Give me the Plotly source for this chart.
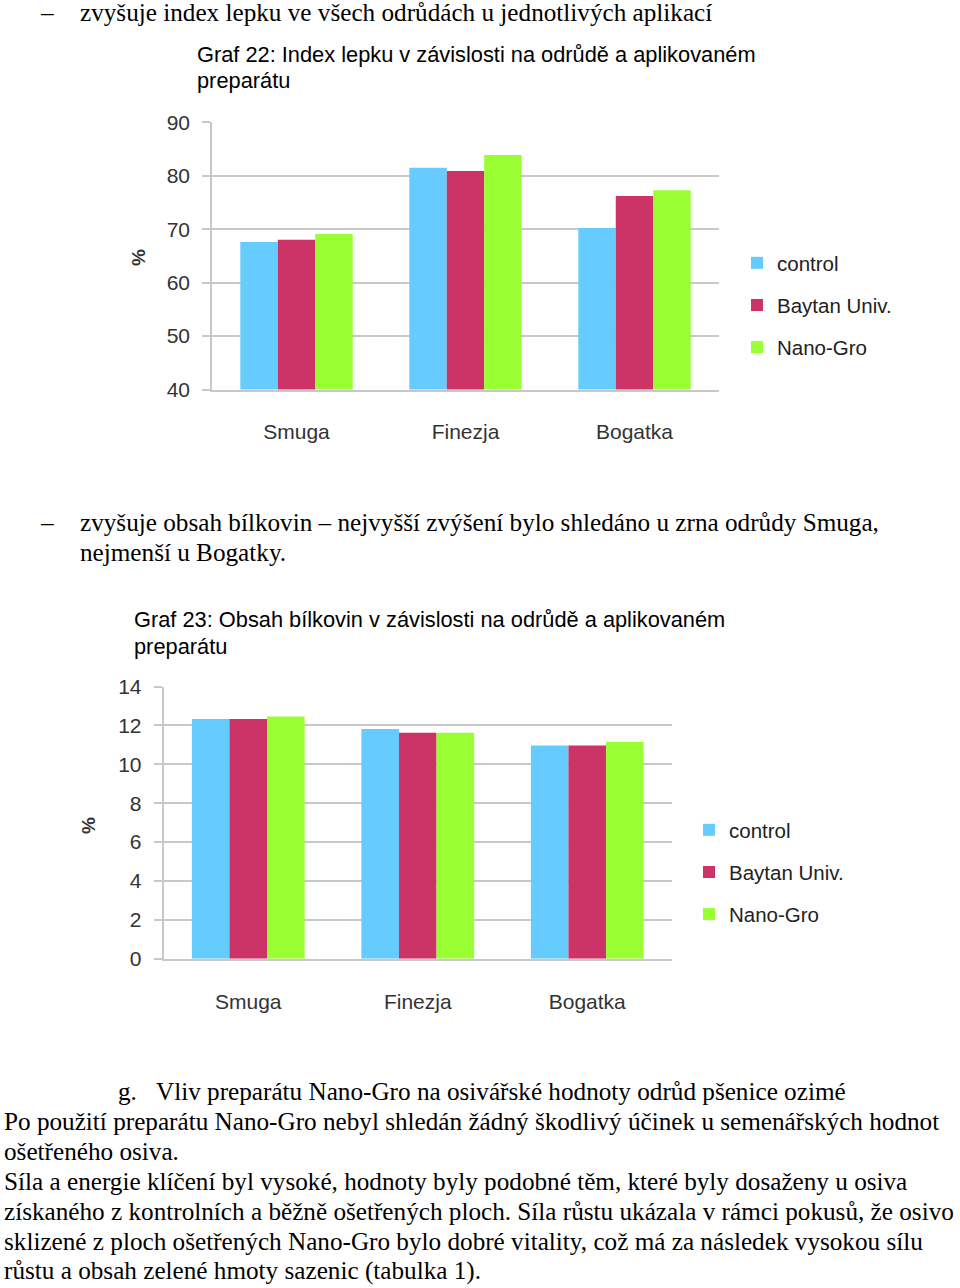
import plotly.graph_objects as go

W, H = 960, 1288

varieties = ["Smuga", "Finezja", "Bogatka"]
treatments = ["control", "Baytan Univ.", "Nano-Gro"]
colors = ["#66CCFF", "#CC3366", "#99FF33"]

# Graf 22: Index lepku (%)
gluten_control = [67.6, 81.5, 70.2]
gluten_baytan = [68.0, 80.9, 76.2]
gluten_nano = [69.1, 83.9, 77.3]

# Graf 23: Obsah bílkovin (%)
protein_control = [12.33, 11.81, 10.97]
protein_baytan = [12.33, 11.62, 10.97]
protein_nano = [12.46, 11.62, 11.14]

gluten_ticks = [40, 50, 60, 70, 80, 90]
protein_ticks = [0, 2, 4, 6, 8, 10, 12, 14]

def px_x(x):
    return x / W

def px_y(y):
    return 1 - y / H

fig = go.Figure()

for name, vals, col, g in zip(treatments, [gluten_control, gluten_baytan, gluten_nano], colors, ["a", "b", "c"]):
    fig.add_trace(go.Bar(x=varieties, y=vals, name=name, marker_color=col, marker_line_width=0,
                         xaxis="x", yaxis="y", legend="legend", legendgroup="g1" + g))
for name, vals, col, g in zip(treatments, [protein_control, protein_baytan, protein_nano], colors, ["a", "b", "c"]):
    fig.add_trace(go.Bar(x=varieties, y=vals, name=name, marker_color=col, marker_line_width=0,
                         xaxis="x2", yaxis="y2", legend="legend2", legendgroup="g2" + g))

axis_font = dict(family="Liberation Sans, Arial, sans-serif", size=21, color="#333333")
grid = "#C8C8C8"

common_x = dict(showgrid=False, showline=True, linecolor=grid, linewidth=1.5, ticks="",
                tickfont=axis_font, ticklabelstandoff=23, fixedrange=True, automargin=False)
common_y = dict(showgrid=True, gridcolor=grid, gridwidth=1.5, showline=True, linecolor=grid, linewidth=1.5,
                ticks="outside", ticklen=8, tickcolor=grid, tickwidth=1.5, tickfont=axis_font,
                ticklabelstandoff=8, zeroline=False, fixedrange=True, automargin=False)

legend_font = dict(family="Liberation Sans, Arial, sans-serif", size=20.5, color="#222222")

fig.update_layout(
    width=W, height=H, autosize=False,
    margin=dict(l=0, r=0, t=0, b=0, pad=0),
    paper_bgcolor="white", plot_bgcolor="white",
    barmode="group", bargap=0.335, bargroupgap=0,
    xaxis=dict(domain=[px_x(212), px_x(719)], anchor="y", **common_x),
    yaxis=dict(domain=[px_y(389.5), px_y(122.3)], anchor="x", range=[40, 90],
               tickvals=gluten_ticks, **common_y),
    xaxis2=dict(domain=[px_x(163.5), px_x(672)], anchor="y2", **common_x),
    yaxis2=dict(domain=[px_y(958.7), px_y(686.5)], anchor="x2", range=[0, 14],
                tickvals=protein_ticks, **common_y),
    legend=dict(x=px_x(737), y=px_y(243), xanchor="left", yanchor="top",
                font=legend_font, tracegroupgap=12.5, bgcolor="rgba(0,0,0,0)"),
    legend2=dict(x=px_x(689), y=px_y(810), xanchor="left", yanchor="top",
                 font=legend_font, tracegroupgap=12.5, bgcolor="rgba(0,0,0,0)"),
    showlegend=True,
)

serif = dict(family="Liberation Serif, Times New Roman, serif", size=25.2, color="#000000")
sans_title = dict(family="Liberation Sans, Arial, sans-serif", size=21.8, color="#000000")
pct_font = dict(family="Liberation Sans, Arial, sans-serif", size=19, color="#333333")

def txt(x, y, s, font, xanchor="left", **kw):
    fig.add_annotation(x=px_x(x), y=px_y(y), xref="paper", yref="paper", text=s, showarrow=False,
                       xanchor=xanchor, yanchor="middle", font=font, align="left", **kw)

# body text
txt(47, 13, "–", serif, xanchor="center")
txt(78, 13, "zvyšuje index lepku ve všech odrůdách u jednotlivých aplikací", serif)
txt(195, 55, "Graf 22: Index lepku v závislosti na odrůdě a aplikovaném", sans_title)
txt(195, 81, "preparátu", sans_title)
txt(138, 258, "<b>%</b>", pct_font, xanchor="center", textangle=-90)

txt(47, 522, "–", serif, xanchor="center")
txt(78, 522, "zvyšuje obsah bílkovin – nejvyšší zvýšení bylo shledáno u zrna odrůdy Smuga,", serif)
txt(78, 552, "nejmenší u Bogatky.", serif)
txt(132, 619, "Graf 23: Obsah bílkovin v závislosti na odrůdě a aplikovaném", sans_title)
txt(132, 646, "preparátu", sans_title)
txt(88, 826, "<b>%</b>", pct_font, xanchor="center", textangle=-90)

txt(116, 1091, "g.", serif)
txt(154, 1091, "Vliv preparátu Nano-Gro na osivářské hodnoty odrůd pšenice ozimé", serif)
para = [
    "Po použití preparátu Nano-Gro nebyl shledán žádný škodlivý účinek u semenářských hodnot",
    "ošetřeného osiva.",
    "Síla a energie klíčení byl vysoké, hodnoty byly podobné těm, které byly dosaženy u osiva",
    "získaného z kontrolních a běžně ošetřených ploch. Síla růstu ukázala v rámci pokusů, že osivo",
    "sklizené z ploch ošetřených Nano-Gro bylo dobré vitality, což má za následek vysokou sílu",
    "růstu a obsah zelené hmoty sazenic (tabulka 1).",
]
for i, line in enumerate(para):
    txt(2, 1121 + 30 * i, line, serif)

fig.write_html("out.html", config={"displayModeBar": False},
               post_script="document.body.style.margin='0px';")
